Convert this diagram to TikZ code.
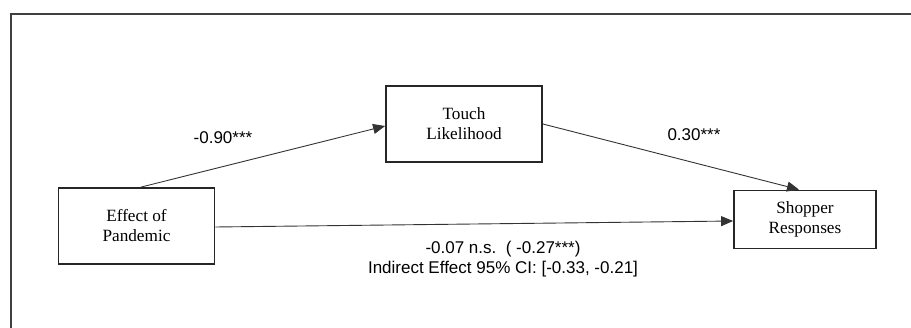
\documentclass[tikz,border=0pt]{standalone}
\usepackage{fontspec}
\setmainfont{Liberation Serif}
\newfontfamily\labelfont{Liberation Sans}
\usetikzlibrary{arrows.meta}
\tikzset{
  varbox/.style={draw=black!85, line width=1.8pt, minimum height=#1, align=center,
    font=\fontsize{17.2}{20}\selectfont, inner sep=0pt},
  path/.style={draw=black!80, line width=0.9pt,
    -{Triangle[length=12pt,width=10pt]}},
  coef/.style={font=\labelfont\fontsize{17}{20}\selectfont, inner sep=0pt, align=center}
}
\begin{document}
\begin{tikzpicture}[x=1pt,y=-1pt]
  \useasboundingbox (0,0) rectangle (911,328);
  % outer frame, running off the right and bottom edges
  \draw[black!75, line width=2pt] (11,340) -- (11,14) -- (930,14);

  % variables
  \node[varbox=76pt, minimum width=156pt] (eff) at (136.5,226) {Effect of\\Pandemic};
  \node[varbox=76pt, minimum width=156pt] (tl)  at (464,124)   {Touch\\Likelihood};
  \node[varbox=58pt, minimum width=142pt] (sr)  at (805,219.5) {Shopper\\Responses};

  % paths
  \draw[path] ([xshift=4.5pt]eff.north) -- ([yshift=-2pt]tl.west);
  \draw[path] (tl.east) -- ([xshift=-6pt]sr.north);
  \draw[path] ([yshift=-1pt]eff.east) -- ([yshift=-1.5pt]sr.west);

  % coefficients
  \node[coef] (a) at (223,138) {-0.90***};
  \node[coef] (b) at (694,135) {0.30***};
  \node[coef] (c) at (503,259) {-0.07 n.s.\ \ ( -0.27***)\\Indirect Effect 95\% CI: [-0.33, -0.21]};
\end{tikzpicture}
\end{document}
